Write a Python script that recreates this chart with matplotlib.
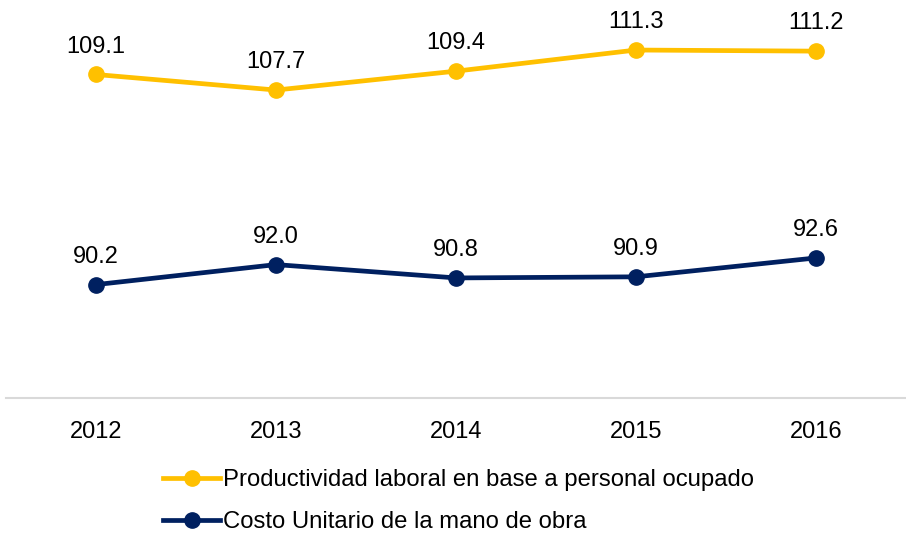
import matplotlib.pyplot as plt
import numpy as np

plt.rcParams['font.family'] = ['Liberation Sans', 'DejaVu Sans']

years = ['2012', '2013', '2014', '2015', '2016']
productividad = [109.1, 107.7, 109.4, 111.3, 111.2]
costo = [90.2, 92.0, 90.8, 90.9, 92.6]
labels = ['Productividad laboral en base a personal ocupado',
          'Costo Unitario de la mano de obra']
colors = ['#FFC000', '#002060']

fig = plt.figure(figsize=(9.06, 5.34), dpi=100)
ax = fig.add_axes([6 / 906, 1 - 398 / 534, 900 / 906, 398 / 534])

x = np.arange(len(years))
for vals, lab, c in zip([productividad, costo], labels, colors):
    ax.plot(x, vals, color=c, linewidth=3.4, marker='o', markersize=11, label=lab)
    for xi, v in zip(x, vals):
        ax.annotate(f'{v:.1f}', (xi, v), xytext=(0, 12), textcoords='offset points',
                    ha='center', va='bottom', fontsize=17, color='#000000')

ax.set_xlim(-0.5, len(years) - 0.5)
ax.set_ylim(80, 115.8)
ax.set_xticks(x)
ax.set_xticklabels(years, fontsize=17)
ax.tick_params(axis='x', length=0, pad=16.5)
ax.set_yticks([])
for s in ['top', 'right', 'left']:
    ax.spines[s].set_visible(False)
ax.spines['bottom'].set_color('#D9D9D9')
ax.spines['bottom'].set_linewidth(1.5)

fig.legend(loc='upper left', bbox_to_anchor=(163 / 906, 1 - 469 / 534), frameon=False,
           fontsize=17.2, handlelength=2.4, handletextpad=0.1, labelspacing=0.85,
           borderaxespad=0, borderpad=0)

fig.savefig('out.png', dpi=100)
